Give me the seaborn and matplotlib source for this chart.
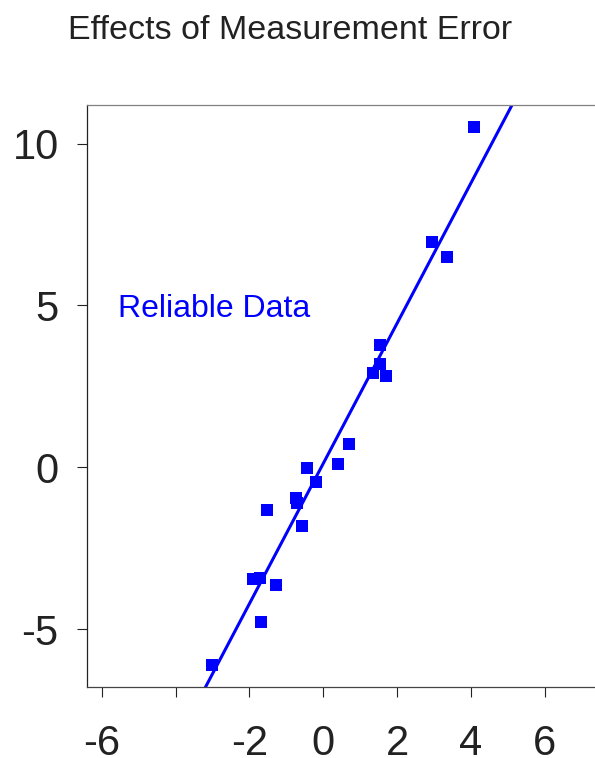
import matplotlib
matplotlib.use("Agg")
import matplotlib.pyplot as plt
import seaborn as sns
import numpy as np
import pandas as pd

# Data
x_vals = [4.08, 2.95, 3.34, 1.54, 1.54, 1.34, 1.69, 0.69, 0.39, -0.45,
          -0.21, -0.75, -0.70, -1.53, -0.59, -1.90, -1.72, -1.28, -1.69, -3.01]
y_vals = [10.52, 6.97, 6.51, 3.78, 3.19, 2.91, 2.83, 0.73, 0.12, -0.01,
          -0.44, -0.95, -1.10, -1.33, -1.81, -3.45, -3.42, -3.63, -4.77, -6.09]
x_ticks = [-6, -4, -2, 0, 2, 4, 6]
x_tick_labels = ["-6", "", "-2", "0", "2", "4", "6"]
y_ticks = [-5, 0, 5, 10]
y_tick_labels = ["-5", "0", "5", "10"]
title = "Effects of Measurement Error"
label = "Reliable Data"

df = pd.DataFrame({"x": x_vals, "y": y_vals})

sns.set_theme(style="white")
plt.rcParams["font.family"] = ["Liberation Sans", "DejaVu Sans"]

fig = plt.figure(figsize=(5.95, 7.58), dpi=100)
ax = fig.add_axes([0.1457, 0.0941, 0.8543, 0.7674])
ax.set_xlim(-6.41, 7.36)
ax.set_ylim(-6.77, 11.19)

sns.regplot(data=df, x="x", y="y", ax=ax, ci=None, truncate=False,
            marker="s", color="#0000ff",
            scatter_kws=dict(s=75, linewidths=0, alpha=1),
            line_kws=dict(color="#0000ff", lw=2.2))

ax.set_xlim(-6.41, 7.36)
ax.set_ylim(-6.77, 11.19)
ax.set_xlabel("")
ax.set_ylabel("")
ax.set_xticks(x_ticks)
ax.set_xticklabels(x_tick_labels)
ax.set_yticks(y_ticks)
ax.set_yticklabels(y_tick_labels)

ax.tick_params(axis="both", direction="out", length=7.2, width=0.8,
               color="#222222", labelsize=30, labelcolor="#222222")
ax.tick_params(axis="x", pad=19.5, bottom=True)
ax.tick_params(axis="y", pad=13, left=True)

ax.spines["right"].set_visible(False)
ax.spines["top"].set_color("#808080")
ax.spines["left"].set_color("#222222")
ax.spines["bottom"].set_color("#444444")
for s in ["top", "left", "bottom"]:
    ax.spines[s].set_linewidth(0.9)

ax.text(-5.56, 4.64, label, color="#0000ff", fontsize=23, va="baseline", ha="left")
fig.text(0.487, 0.960, title, fontsize=24.5, color="#222222", ha="center", va="center")

fig.savefig("out.png", dpi=100)
